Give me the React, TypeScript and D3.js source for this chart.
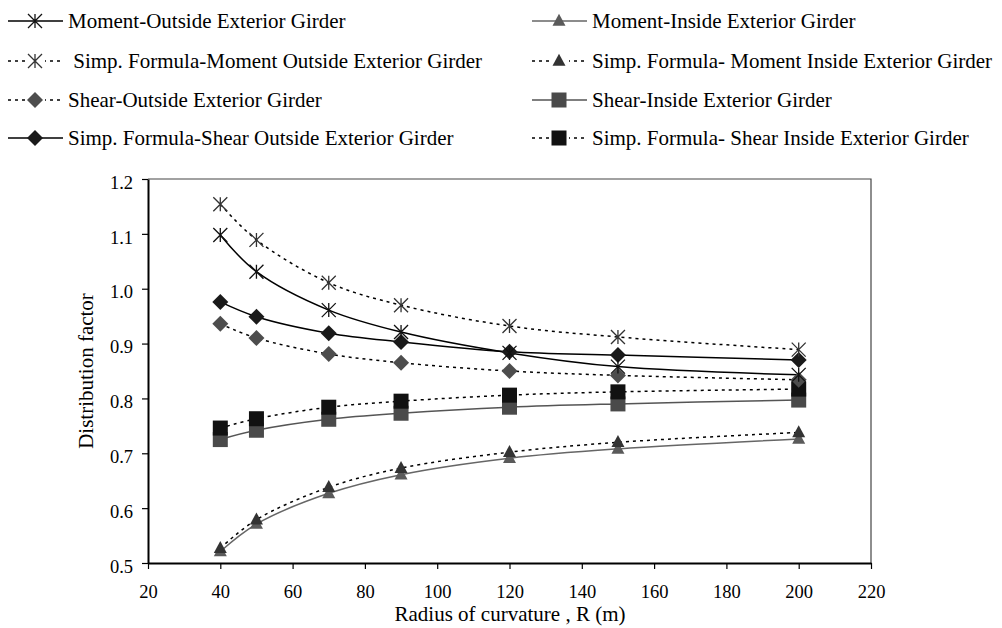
import React, { useEffect, useRef } from "react";
import * as d3 from "d3";

const radius = [40, 50, 70, 90, 120, 150, 200];
const momentOutside = [1.098, 1.031, 0.961, 0.921, 0.883, 0.858, 0.843];
const simpMomentOutside = [1.154, 1.089, 1.011, 0.970, 0.932, 0.912, 0.889];
const momentInside = [0.521, 0.571, 0.627, 0.661, 0.691, 0.708, 0.726];
const simpMomentInside = [0.527, 0.579, 0.638, 0.673, 0.702, 0.720, 0.738];
const shearOutside = [0.936, 0.910, 0.881, 0.865, 0.850, 0.842, 0.834];
const shearInside = [0.725, 0.742, 0.762, 0.773, 0.784, 0.790, 0.797];
const simpShearOutside = [0.976, 0.949, 0.919, 0.903, 0.885, 0.879, 0.870];
const simpShearInside = [0.746, 0.763, 0.784, 0.795, 0.806, 0.812, 0.817];
const xTicks = [20, 40, 60, 80, 100, 120, 140, 160, 180, 200, 220];
const yTicks = [0.5, 0.6, 0.7, 0.8, 0.9, 1.0, 1.1, 1.2];

type Marker = "star" | "triangle" | "diamond" | "square";
interface Series {
  name: string;
  values: number[];
  marker: Marker;
  lineColor: string;
  markerColor: string;
  dashed: boolean;
  col: number;
  row: number;
}

const series: Series[] = [
  { name: "Moment-Outside Exterior Girder", values: momentOutside, marker: "star", lineColor: "#000", markerColor: "#111", dashed: false, col: 0, row: 0 },
  { name: " Simp. Formula-Moment Outside Exterior Girder", values: simpMomentOutside, marker: "star", lineColor: "#000", markerColor: "#333", dashed: true, col: 0, row: 1 },
  { name: "Shear-Outside Exterior Girder", values: shearOutside, marker: "diamond", lineColor: "#000", markerColor: "#4d4d4d", dashed: true, col: 0, row: 2 },
  { name: "Simp. Formula-Shear Outside Exterior Girder", values: simpShearOutside, marker: "diamond", lineColor: "#000", markerColor: "#1a1a1a", dashed: false, col: 0, row: 3 },
  { name: "Moment-Inside Exterior Girder", values: momentInside, marker: "triangle", lineColor: "#666", markerColor: "#5a5a5a", dashed: false, col: 1, row: 0 },
  { name: "Simp. Formula- Moment Inside Exterior Girder", values: simpMomentInside, marker: "triangle", lineColor: "#000", markerColor: "#333", dashed: true, col: 1, row: 1 },
  { name: "Shear-Inside Exterior Girder", values: shearInside, marker: "square", lineColor: "#555", markerColor: "#4a4a4a", dashed: false, col: 1, row: 2 },
  { name: "Simp. Formula- Shear Inside Exterior Girder", values: simpShearInside, marker: "square", lineColor: "#000", markerColor: "#111", dashed: true, col: 1, row: 3 },
];

const drawOrder = [4, 5, 6, 7, 2, 3, 0, 1];

function drawMarker(g: d3.Selection<SVGGElement, unknown, null, undefined>, m: Marker, x: number, y: number, color: string) {
  if (m === "star") {
    const r = 7;
    const p = `M${x - r},${y - r}L${x + r},${y + r}M${x - r},${y + r}L${x + r},${y - r}M${x},${y - r}L${x},${y + r}`;
    g.append("path").attr("d", p).attr("stroke", color).attr("stroke-width", 1.3).attr("fill", "none");
  } else if (m === "diamond") {
    const r = 8;
    g.append("path").attr("d", `M${x},${y - r}L${x + r},${y}L${x},${y + r}L${x - r},${y}Z`).attr("fill", color);
  } else if (m === "square") {
    const s = 15;
    g.append("rect").attr("x", x - s / 2).attr("y", y - s / 2).attr("width", s).attr("height", s).attr("fill", color);
  } else {
    const w = 13, h = 12;
    g.append("path").attr("d", `M${x},${y - h * 0.6}L${x + w / 2},${y + h * 0.4}L${x - w / 2},${y + h * 0.4}Z`).attr("fill", color);
  }
}

export default function App() {
  const ref = useRef<SVGSVGElement>(null);
  useEffect(() => {
    const svg = d3.select(ref.current!);
    svg.selectAll("*").remove();
    const font = "'Liberation Serif', 'Times New Roman', serif";
    const left = 148, right = 871, top = 179, bottom = 563;
    const x = d3.scaleLinear().domain([20, 220]).range([left, right]);
    const y = d3.scaleLinear().domain([0.5, 1.2]).range([bottom, top]);

    svg.append("path").attr("d", `M${left},${top}H${right}V${bottom}`).attr("fill", "none").attr("stroke", "#444").attr("stroke-width", 1.2);

    const xAxis = svg.append("g").attr("transform", `translate(0,${bottom})`)
      .call(d3.axisBottom(x).tickValues(xTicks).tickSize(6).tickSizeOuter(0).tickPadding(16).tickFormat(d3.format("d")));
    const yAxis = svg.append("g").attr("transform", `translate(${left},0)`)
      .call(d3.axisLeft(y).tickValues(yTicks).tickSize(6).tickSizeOuter(0).tickPadding(9).tickFormat(d3.format(".1f")));
    [xAxis, yAxis].forEach((a) => {
      a.select(".domain").attr("stroke", "#000").attr("stroke-width", 2);
      a.selectAll(".tick line").attr("stroke", "#000").attr("stroke-width", 1.2);
      a.selectAll("text").attr("font-family", font).attr("font-size", 18.5).attr("fill", "#000");
    });
    yAxis.selectAll("text").attr("dy", "0.5em");

    svg.append("text").attr("x", 510).attr("y", 621).attr("text-anchor", "middle")
      .attr("font-family", font).attr("font-size", 21).text("Radius of curvature , R (m)");
    svg.append("text").attr("transform", `translate(93,${(top + bottom) / 2}) rotate(-90)`).attr("text-anchor", "middle")
      .attr("font-family", font).attr("font-size", 21).text("Distribution factor");

    const line = d3.line<number>().x((_, i) => x(radius[i])).y((d) => y(d)).curve(d3.curveCatmullRom.alpha(0.5));
    const plot = svg.append("g");
    drawOrder.forEach((si) => {
      const s = series[si];
      plot.append("path").attr("d", line(s.values)!).attr("fill", "none").attr("stroke", s.lineColor)
        .attr("stroke-width", 1.5).attr("stroke-dasharray", s.dashed ? "3,4" : null);
    });
    drawOrder.forEach((si) => {
      const s = series[si];
      const g = plot.append("g");
      s.values.forEach((v, i) => drawMarker(g, s.marker, x(radius[i]), y(v), s.markerColor));
    });

    const colX = [8, 532];
    const rowY = [21, 61, 100, 138];
    series.forEach((s) => {
      const lx = colX[s.col], ly = rowY[s.row];
      const g = svg.append("g");
      g.append("line").attr("x1", lx).attr("x2", lx + 55).attr("y1", ly).attr("y2", ly)
        .attr("stroke", s.lineColor).attr("stroke-width", 1.5).attr("stroke-dasharray", s.dashed ? "3,4" : null);
      if (s.dashed) {
        g.append("rect").attr("x", lx + 18).attr("y", ly - 9).attr("width", 19).attr("height", 18).attr("fill", "#fff");
      }
      drawMarker(g, s.marker, lx + 27, ly, s.markerColor);
      g.append("text").attr("x", lx + 60).attr("y", ly).attr("dy", "0.35em").attr("font-family", font)
        .attr("font-size", 21).style("white-space", "pre").text(s.name);
    });
  }, []);
  return (
    <svg ref={ref} width={1002} height={628} style={{ position: "absolute", left: 0, top: 0, background: "#fff" }} />
  );
}
